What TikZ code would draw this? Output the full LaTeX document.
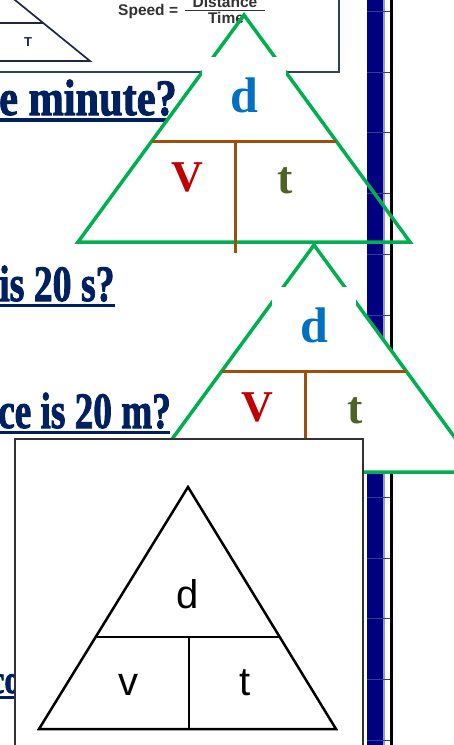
\documentclass[tikz,border=0pt]{standalone}
\usepackage{fontspec}
\usepackage{graphicx}
\setmainfont{Liberation Serif}
\newfontfamily\arialfont{Liberation Sans}
\newfontfamily\qfont{Liberation Serif}[BoldFeatures={FakeBold=2}]
\usetikzlibrary{positioning}

\definecolor{triGreen}{RGB}{0,176,80}
\definecolor{triBrown}{RGB}{156,80,12}
\definecolor{dBlue}{RGB}{0,112,192}
\definecolor{vRed}{RGB}{192,0,0}
\definecolor{tOlive}{RGB}{79,98,40}
\definecolor{qNavy}{RGB}{0,32,96}
\definecolor{barNavy}{RGB}{0,0,128}
\definecolor{barEdge}{RGB}{150,150,220}
\definecolor{barGrid}{RGB}{55,55,150}
\definecolor{boxSlate}{RGB}{40,70,85}
\definecolor{inkNavy}{RGB}{30,40,70}
\definecolor{inkGray}{RGB}{50,50,50}

\begin{document}
\begin{tikzpicture}[
        x=1pt, y=-1pt,
        qText/.style={
            anchor=base west, inner sep=0, text=qNavy,
            font=\qfont\bfseries\fontsize{51}{60}\selectfont
        },
        qLine/.style={draw=qNavy, line width=3.5pt},
        greenTri/.style={draw=triGreen, line width=3.5pt, line join=miter},
        brownLine/.style={draw=triBrown, line width=3pt},
        letterBox/.style={
            fill=white, inner sep=0, minimum width=84pt, minimum height=76pt,
            text=dBlue, font=\fontsize{50}{60}\selectfont\bfseries
        },
        cellLetter/.style={inner sep=0, font=\fontsize{44}{50}\selectfont\bfseries},
        sansLetter/.style={inner sep=0, font=\arialfont\fontsize{40}{48}\selectfont},
        formula/.style={
            inner sep=0, text=inkGray,
            font=\arialfont\bfseries\fontsize{15.5}{18}\selectfont
        },
        blackLine/.style={draw=black, line width=2.5pt, line join=miter}
    ]
        \useasboundingbox (0,0) rectangle (454,745);
        \clip (0,0) rectangle (454,745);

        % Formula card, top left
        \draw[boxSlate, line width=1.3pt, fill=white] (-5,-5) rectangle (339,72);
        \draw[inkNavy, line width=1.7pt] (-10,-20.3) -- (90,61) -- (-5,61);
        \draw[inkNavy, line width=1.7pt] (-5,23) -- (43,23);
        \node[formula, text=inkNavy, font=\arialfont\bfseries\fontsize{13}{15}\selectfont] (tLbl) at (28,42) {T};
        \node[formula, anchor=base west] (speedLbl) at (118,15) {Speed =};
        \node[formula, anchor=base] (distLbl) at (225,7) {Distance};
        \node[formula, anchor=base] (timeLbl) at (226,23) {Time};
        \draw[inkGray, line width=1.2pt] (185,10.5) -- (265,10.5);

        % Question lines
        \node[qText] (q1) at (-1,115) {\scalebox{0.83}[1]{e minute?}};
        \draw[qLine] (0,120) -- (167,120);
        \node[qText] (q2) at (-1,301) {\scalebox{0.74}[1]{is 20 s?}};
        \draw[qLine] (0,305.5) -- (115,305.5);
        \node[qText] (q3) at (-2,428) {\scalebox{0.73}[1]{ce is 20 m?}};
        \draw[qLine] (0,432.5) -- (170,432.5);
        \node[qText, font=\qfont\bfseries\fontsize{40}{48}\selectfont] (q4) at (-10,693) {\scalebox{0.8}[1]{co}};
        \draw[qLine] (0,697.5) -- (16,697.5);

        % Side bar
        \fill[barNavy] (367,-5) rectangle (383,750);
        \draw[barEdge, line width=1.5pt] (384,-5) -- (384,750);
        \foreach \k in {0,...,12}
            \draw[barGrid, line width=0.5pt] (367,{11+60.75*\k}) -- (390,{11+60.75*\k});
        \draw[black, line width=3pt] (391.5,-5) -- (391.5,750);

        % Green d-v-t triangles
        \foreach \ax/\ay/\tfill/\n in {244/15/none/1, 314/245/white/2}{
            \begin{scope}[shift={(\ax,\ay)}]
                \draw[greenTri, fill=\tfill] (0,0) -- (166,227) -- (-166,227) -- cycle;
                \draw[brownLine] (-92,126) -- (92,126);
                \draw[brownLine] (-9,126) -- (-9,238);
                \node[letterBox] (d\n) at (0,80) {d};
                \node[cellLetter, text=vRed] (v\n) at (-57,162) {V};
                \node[cellLetter, text=tOlive, font=\fontsize{46}{52}\selectfont\bfseries] (t\n) at (41,166) {t};
            \end{scope}
        }

        % Plain triangle card, bottom
        \draw[draw=inkGray, line width=1.8pt, fill=white] (15,439) rectangle (363,760);
        \draw[blackLine] (188,487) -- (336,729) -- (39,729) -- cycle;
        \draw[blackLine] (97,637) -- (279,637);
        \draw[blackLine] (189,637) -- (189,729);
        \node[sansLetter] (dPlain) at (188,594) {d};
        \node[sansLetter] (vPlain) at (128,685) {v};
        \node[sansLetter] (tPlain) at (245,683) {t};
    \end{tikzpicture}
\end{document}
